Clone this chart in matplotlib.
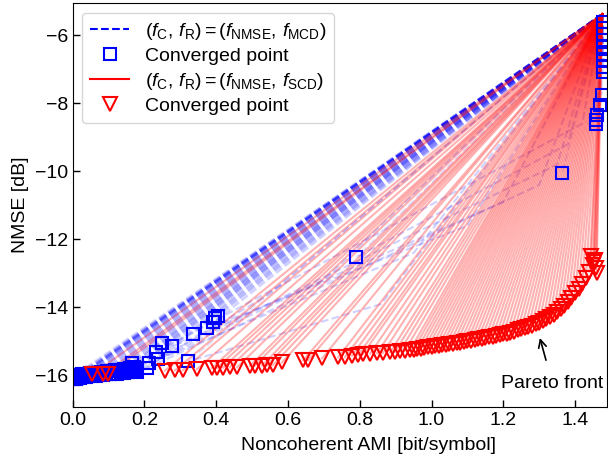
import numpy as np
import matplotlib
matplotlib.use("Agg")
import matplotlib.pyplot as plt
from matplotlib.lines import Line2D

plt.rcParams['font.family'] = ['Liberation Sans', 'DejaVu Sans']
plt.rcParams['mathtext.fontset'] = 'custom'
plt.rcParams['mathtext.rm'] = 'Liberation Sans'
plt.rcParams['mathtext.it'] = 'Liberation Sans:italic'
plt.rcParams['font.size'] = 14

# common starting point of all runs
start_x = 1.476
start_y = -5.38

# converged points, (f_NMSE, f_MCD) - dense group near zero AMI
blue_low_x = [0.000, 0.002, 0.004, 0.006, 0.008, 0.010, 0.012, 0.014, 0.016, 0.018,
              0.020, 0.024, 0.028, 0.032, 0.038, 0.044, 0.050, 0.058, 0.066, 0.074,
              0.084, 0.094, 0.104, 0.114, 0.124, 0.134, 0.144, 0.154, 0.164, 0.174]
blue_low_y = [-16.12, -16.10, -16.11, -16.08, -16.10, -16.07, -16.09, -16.06, -16.08, -16.05,
              -16.07, -16.05, -16.06, -16.03, -16.04, -16.02, -16.03, -16.00, -16.01, -15.99,
              -15.99, -15.97, -15.97, -15.95, -15.95, -15.93, -15.93, -15.91, -15.90, -15.88]
blue_up_x = [0.003, 0.007, 0.011, 0.015, 0.019, 0.025, 0.031, 0.039, 0.047, 0.055,
             0.063, 0.071, 0.079, 0.087, 0.095, 0.103, 0.111, 0.119, 0.127, 0.135,
             0.143, 0.151, 0.159, 0.165, 0.171, 0.178]
blue_up_y = [-16.00, -16.01, -15.99, -15.98, -15.98, -15.96, -15.96, -15.95, -15.94, -15.93,
             -15.92, -15.92, -15.90, -15.90, -15.88, -15.87, -15.86, -15.85, -15.84, -15.83,
             -15.82, -15.80, -15.79, -15.80, -15.76, -15.82]

# converged points, (f_NMSE, f_MCD) - the rest
blue_x = [0.166, 0.174, 0.180, 0.207, 0.213, 0.238, 0.232, 0.249, 0.277, 0.322,
          0.335, 0.374, 0.392, 0.397, 0.405, 0.790, 1.364, 1.459, 1.459, 1.462,
          1.470, 1.475, 1.478, 1.478, 1.478, 1.478, 1.478, 1.478, 1.478, 1.478,
          1.478]
blue_y = [-15.65, -15.79, -15.91, -15.79, -15.65, -15.53, -15.32, -15.06, -15.15, -15.59,
          -14.78, -14.62, -14.44, -14.32, -14.24, -12.53, -10.06, -8.60, -8.48, -8.35,
          -8.06, -7.76, -5.60, -5.78, -5.95, -6.15, -6.35, -6.55, -6.75, -6.92,
          -7.08]

# a few runs that bent on the way (start -> via -> converged point index in blue_x)
blue_bent_via_x = [0.86, 1.38, 1.30, 1.42, 1.20, 1.10, 1.35, 0.95, 0.70, 0.55]
blue_bent_via_y = [-13.90, -9.20, -10.40, -8.60, -10.90, -11.60, -9.80, -12.40, -13.20, -13.60]
blue_bent_end = [9, 15, 3, 6, 8, 11, 1, 4, 5, 2]

# converged points, (f_NMSE, f_SCD)
red_x = [0.054, 0.085, 0.099, 0.257, 0.285, 0.307, 0.346, 0.388, 0.402, 0.419,
         0.438, 0.458, 0.494, 0.508, 0.528, 0.542, 0.558, 0.583, 0.642, 0.656,
         0.695, 0.740, 0.759, 0.778, 0.795, 0.809, 0.829, 0.848, 0.865, 0.885,
         0.898, 0.912, 0.926, 0.940, 0.950, 0.960, 0.970, 0.980, 0.990, 1.000,
         1.010, 1.020, 1.030, 1.040, 1.050, 1.060, 1.070, 1.080, 1.090, 1.100,
         1.110, 1.120, 1.130, 1.140, 1.150, 1.160, 1.170, 1.180, 1.190, 1.200,
         1.210, 1.220, 1.230, 1.240, 1.250, 1.260, 1.270, 1.280, 1.290, 1.300,
         1.310, 1.320, 1.330, 1.340, 1.350, 1.360, 1.370, 1.380, 1.390, 1.400,
         1.410, 1.420, 1.430, 1.440, 1.450, 1.455, 1.445, 1.458, 1.460, 1.452]
red_y = [-15.97, -15.97, -15.96, -15.86, -15.85, -15.85, -15.82, -15.78, -15.78, -15.77,
         -15.76, -15.76, -15.72, -15.71, -15.71, -15.70, -15.70, -15.62, -15.56, -15.56,
         -15.50, -15.47, -15.46, -15.42, -15.41, -15.37, -15.36, -15.35, -15.34, -15.32,
         -15.31, -15.29, -15.27, -15.26, -15.24, -15.23, -15.21, -15.20, -15.18, -15.17,
         -15.15, -15.14, -15.12, -15.10, -15.09, -15.07, -15.05, -15.04, -15.02, -15.00,
         -14.98, -14.96, -14.94, -14.92, -14.90, -14.88, -14.86, -14.84, -14.81, -14.79,
         -14.77, -14.74, -14.71, -14.68, -14.65, -14.62, -14.58, -14.54, -14.50, -14.45,
         -14.40, -14.34, -14.28, -14.21, -14.13, -14.04, -13.95, -13.84, -13.72, -13.58,
         -13.45, -13.30, -13.15, -12.95, -12.75, -12.60, -12.50, -12.85, -13.00, -12.68]

all_bx = blue_low_x + blue_up_x + blue_x
all_by = blue_low_y + blue_up_y + blue_y

fig = plt.figure(figsize=(6.08, 4.57), dpi=100)
ax = fig.add_axes([0.1196, 0.1094, 0.8787, 0.884])

# search trajectories: MCD runs first, SCD runs on top
for i in range(len(all_bx)):
    ax.plot([start_x, all_bx[i]], [start_y, all_by[i]], '--', color='blue', lw=1.5, alpha=0.1)
for k in range(len(blue_bent_end)):
    j = blue_bent_end[k]
    ax.plot([start_x, blue_bent_via_x[k], blue_x[j]], [start_y, blue_bent_via_y[k], blue_y[j]],
            '--', color='blue', lw=1.5, alpha=0.18)
for i in range(len(red_x)):
    ax.plot([start_x, red_x[i]], [start_y, red_y[i]], '-', color='red', lw=1.5, alpha=0.3)

ax.plot(all_bx, all_by, 's', ms=9, mfc='none', mec='blue', mew=1.5, linestyle='none')
ax.plot(red_x, red_y, 'v', ms=9.5, mfc='none', mec='red', mew=1.5, linestyle='none')

ax.annotate('Pareto front', xy=(1.302, -14.9), xytext=(1.337, -16.24),
            ha='center', va='center',
            arrowprops=dict(arrowstyle='->', color='black', lw=1.2, shrinkA=9, shrinkB=0))

ax.set_xlim(0, 1.489)
ax.set_ylim(-16.93, -5.05)
ax.set_xticks(np.arange(0, 1.41, 0.2))
ax.set_yticks([-16, -14, -12, -10, -8, -6])
ax.tick_params(direction='in', length=5, width=1)
ax.set_xlabel('Noncoherent AMI [bit/symbol]')
ax.xaxis.set_label_coords(0.553, -0.075)
ax.set_ylabel('NMSE [dB]')

handles = [
    Line2D([], [], color='blue', ls='--', lw=1.5),
    Line2D([], [], marker='s', ms=9, mfc='none', mec='blue', mew=1.5, ls='none'),
    Line2D([], [], color='red', ls='-', lw=1.5),
    Line2D([], [], marker='v', ms=9.5, mfc='none', mec='red', mew=1.5, ls='none'),
]
labels = [
    r'$(f_{\mathrm{C}},\, f_{\mathrm{R}}) = (f_{\mathrm{NMSE}},\, f_{\mathrm{MCD}})$',
    'Converged point',
    r'$(f_{\mathrm{C}},\, f_{\mathrm{R}}) = (f_{\mathrm{NMSE}},\, f_{\mathrm{SCD}})$',
    'Converged point',
]
ax.legend(handles, labels, loc='upper left', fontsize=14, handlelength=2.0,
          labelspacing=0.3)

fig.savefig('out.png', dpi=100)
